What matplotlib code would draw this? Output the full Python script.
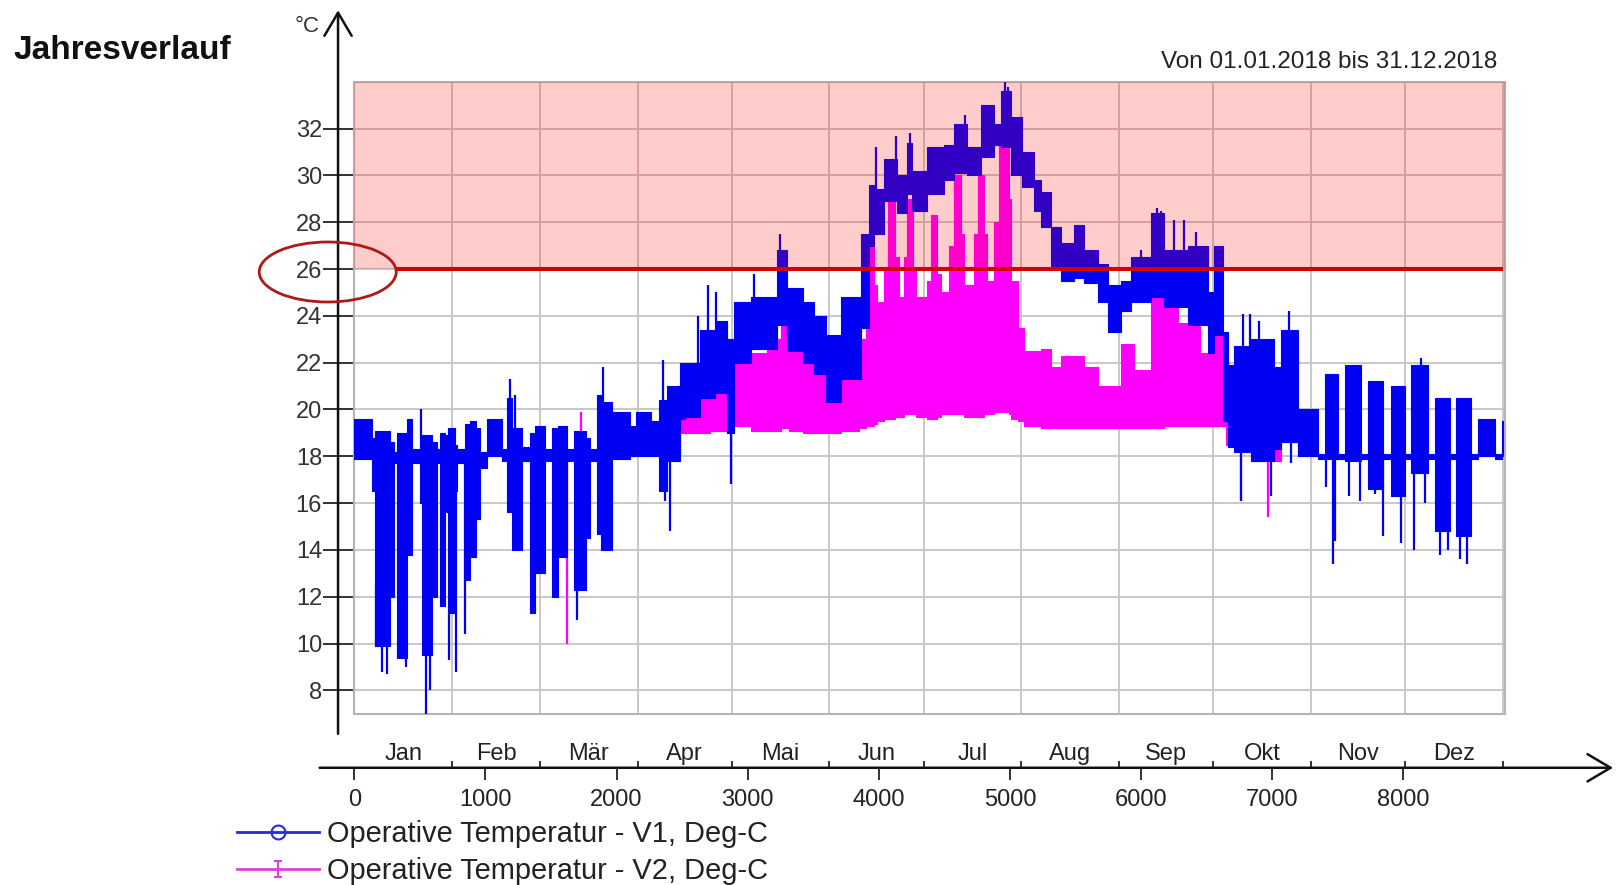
import numpy as np
import matplotlib
matplotlib.use("Agg")
import matplotlib.pyplot as plt
from matplotlib.patches import Ellipse, Rectangle
from matplotlib.path import Path
from matplotlib.lines import Line2D

plt.rcParams["font.family"] = ["Liberation Sans", "DejaVu Sans"]

YEAR_END = 8760
MONTH_DAYS = [31, 28, 31, 30, 31, 30, 31, 31, 30, 31, 30, 31]
MONTH_NAMES = ["Jan", "Feb", "Mär", "Apr", "Mai", "Jun", "Jul", "Aug", "Sep", "Okt", "Nov", "Dez"]
LIMIT_TEMP = 26
LIMIT_FROM_HOUR = 326

# V1 operative temperature, condensed to blocks: start hour, lowest and highest value in block
v1_hours = [0, 133, 158, 270, 300, 324, 400, 440, 500, 513, 590, 630, 654, 690, 712,           # Jan
            770, 782, 846, 885, 925, 960, 1010, 1125, 1163, 1200, 1278, 1342, 1380,            # Feb
            1456, 1507, 1550, 1622, 1673, 1770, 1800, 1850, 1880, 1965, 2105, 2150,            # Mär
            2260, 2321, 2385, 2487, 2525, 2640, 2754, 2843,                                    # Apr
            2894, 3022, 3226, 3302, 3420, 3506, 3600,                                          # Mai
            3709, 3862, 3925, 3964, 4040, 4142, 4218, 4256,                                    # Jun
            4371, 4498, 4574, 4676, 4778, 4880, 4931, 5007,                                    # Jul
            5096, 5185, 5236, 5312, 5389, 5490, 5567, 5669, 5745,                              # Aug
            5847, 5923, 6076, 6178, 6356, 6509,                                                # Sep
            6560, 6623, 6660, 6713, 6840, 7018, 7069, 7196,                                    # Okt
            7349, 7400, 7502, 7553, 7680, 7731, 7845, 7909, 8011,                              # Nov
            8062, 8189, 8240, 8354, 8405, 8520, 8570, 8698, 8750]                              # Dez
v1_low = [17.9, 16.5, 9.9, 12.0, 17.7, 9.4, 13.8, 17.7, 16.0, 9.5, 12.0, 17.7, 11.6, 15.6, 11.3,
          16.5, 17.7, 12.7, 13.7, 15.3, 17.5, 18.0, 17.8, 15.6, 14.0, 17.8, 11.3, 13.0,
          17.8, 12.0, 13.7, 17.8, 12.3, 14.5, 17.8, 14.7, 14.0, 17.9, 18.0, 18.0,
          18.0, 16.5, 17.8, 19.6, 19.7, 20.5, 20.7, 19.0,
          22.0, 22.6, 23.6, 22.5, 22.0, 21.5, 20.3,
          21.3, 23.5, 27.0, 27.5, 28.9, 28.4, 29.2, 28.5,
          29.2, 29.8, 30.1, 30.0, 30.8, 31.3, 31.2, 30.0,
          29.5, 28.5, 27.8, 26.0, 25.5, 25.6, 25.4, 24.6, 23.3,
          24.2, 24.6, 24.8, 24.4, 23.6, 22.4,
          23.2, 19.5, 18.4, 18.2, 17.8, 18.3, 18.6, 18.0,
          17.9, 17.9, 17.9, 17.8, 17.9, 16.6, 17.9, 16.3, 17.9,
          17.3, 17.9, 14.8, 17.9, 14.6, 17.9, 18.0, 17.9, 18.0]
v1_high = [19.6, 18.8, 19.1, 18.6, 18.2, 19.0, 19.6, 18.3, 18.6, 18.9, 18.6, 18.3, 19.0, 18.9, 19.2,
           18.5, 18.3, 19.4, 19.5, 19.2, 18.2, 19.6, 18.3, 20.5, 19.2, 18.4, 19.0, 19.3,
           18.3, 19.2, 19.3, 18.3, 19.1, 18.8, 18.3, 20.6, 20.3, 19.9, 19.3, 19.9,
           19.5, 20.4, 21.0, 22.0, 22.0, 23.4, 23.8, 23.0,
           24.6, 24.8, 26.8, 25.2, 24.6, 24.0, 23.2,
           24.8, 27.5, 29.6, 29.4, 30.7, 30.0, 31.4, 30.2,
           31.2, 31.3, 32.2, 31.2, 33.0, 32.2, 33.6, 32.5,
           31.0, 29.8, 29.3, 27.8, 27.1, 27.9, 26.8, 26.2, 25.3,
           25.5, 26.5, 28.4, 26.8, 27.0, 25.0,
           27.0, 23.3, 21.9, 22.7, 23.0, 21.8, 23.4, 20.0,
           18.1, 21.5, 18.1, 21.9, 18.1, 21.2, 18.1, 21.0, 18.1,
           21.9, 18.1, 20.5, 18.1, 20.5, 18.1, 19.6, 18.1, 19.5]
# single hours reaching beyond the block range
v1_peak_hours = [163, 212, 250, 395, 510, 548, 578, 722, 774, 845,
                 1190, 1225, 1700, 1895,
                 2354, 2372, 2410, 2620, 2700, 2760, 2869, 3047, 3250, 3290,
                 3976, 4130, 4240, 4660, 4960, 4985,
                 6000, 6120, 6150, 6255, 6330, 6420,
                 6760, 6780, 6830, 6900, 6990, 7127, 7145,
                 7412, 7463, 7476, 7590, 7667, 7782, 7845, 7980,
                 8082, 8138, 8164, 8278, 8342, 8430, 8487]
v1_peak_temps = [12.5, 8.8, 8.7, 9.0, 20.0, 7.0, 8.0, 9.3, 8.8, 10.4,
                 21.3, 20.6, 11.0, 21.8,
                 22.1, 16.1, 14.8, 24.0, 25.3, 25.0, 16.8, 25.8, 27.5, 26.6,
                 31.2, 31.7, 31.8, 32.6, 34.0, 33.8,
                 26.8, 28.6, 28.5, 28.1, 28.1, 27.6,
                 16.1, 24.1, 24.1, 23.8, 16.3, 24.2, 17.7,
                 16.7, 13.4, 14.4, 16.3, 16.1, 16.4, 14.6, 14.3,
                 14.0, 22.2, 16.0, 13.8, 14.0, 13.6, 13.4]

# V2 operative temperature, same block layout
v2_hours = [0, 2487, 2525, 2640, 2716, 2895, 3022, 3150, 3251, 3315, 3420, 3506, 3600,
            3709, 3850, 3900, 3925, 3965, 3989, 4040, 4070, 4120, 4154, 4193, 4215, 4260, 4282,
            4371, 4400, 4445, 4473, 4536, 4570, 4625, 4651, 4727, 4755, 4805, 4829,
            4880, 4920, 4990, 5007, 5060, 5109, 5236, 5312, 5389, 5567, 5669, 5847, 5950,
            6076, 6178, 6280, 6356, 6450, 6560, 6649, 6840, 7069, 7200]
v2_low = [18.0, 19.0, 19.0, 19.0, 19.1, 19.3, 19.1, 19.1, 19.2, 19.1, 19.0, 19.0, 19.0,
          19.1, 19.2, 19.3, 19.3, 19.4, 19.5, 19.6, 19.6, 19.7, 19.7, 19.8, 19.8, 19.8, 19.7,
          19.6, 19.6, 19.7, 19.8, 19.8, 19.8, 19.8, 19.7, 19.7, 19.7, 19.8, 19.8,
          19.9, 19.9, 19.8, 19.6, 19.5, 19.3, 19.2, 19.2, 19.2, 19.2, 19.2, 19.2, 19.2,
          19.2, 19.3, 19.3, 19.3, 19.3, 19.3, 18.5, 17.8, 18.6, 18.0]
v2_high = [18.05, 19.8, 19.8, 21.0, 21.3, 22.0, 22.4, 23.0, 23.7, 22.8, 22.3, 21.8, 20.3,
           21.3, 23.0, 25.5, 27.2, 25.3, 24.6, 26.0, 28.9, 26.5, 24.8, 26.5, 29.0, 26.0, 24.8,
           25.5, 28.3, 25.8, 25.0, 27.0, 30.0, 27.5, 25.3, 27.5, 30.0, 27.5, 25.5,
           28.0, 31.3, 29.0, 25.5, 23.5, 22.5, 22.6, 21.8, 22.3, 21.8, 21.0, 22.8, 21.7,
           24.8, 24.4, 23.7, 23.6, 22.4, 23.2, 20.2, 20.4, 19.8, 18.05]
v2_peak_hours = [1620, 1725, 6766, 6966]
v2_peak_temps = [10.0, 19.9, 16.1, 15.4]

BLUE = "#0000f4"
MAGENTA = "#ff00ff"


def draw_series(ax, hours, low, high, peak_hours, peak_temps, color, z):
    hours = np.asarray(hours)
    low = np.asarray(low)
    high = np.asarray(high)
    x = np.append(hours, YEAR_END)
    ax.fill_between(x, np.append(low, low[-1]), np.append(high, high[-1]),
                    step="post", color=color, lw=0.8, zorder=z)
    idx = np.searchsorted(hours, peak_hours, side="right") - 1
    peaks = np.asarray(peak_temps)
    start = np.where(peaks > high[idx], high[idx], low[idx])
    ax.vlines(peak_hours, start, peaks, color=color, lw=1.6, zorder=z)


month_edges = np.concatenate([[0], np.cumsum(MONTH_DAYS) * 24])
month_mids = (month_edges[:-1] + month_edges[1:]) / 2

fig = plt.figure(figsize=(16.16, 8.85), dpi=100)
ax = fig.add_axes([0.2188, 0.193, 0.7124, 0.714])
ax.set_xlim(-6, 8775)
ax.set_ylim(6.98, 33.98)

for s in ax.spines.values():
    s.set_visible(False)
ax.spines["left"].set_position(("outward", 11.2))
ax.spines["bottom"].set_position(("outward", 38.6))

ax.set_yticks(np.arange(8, 33, 2))
ax.tick_params(axis="y", direction="inout", length=20.9, width=1.3, color="#222222",
               labelsize=17, labelcolor="#333333", pad=1)
ax.set_xticks(np.arange(0, 8001, 1000))
ax.set_xticks(month_edges[1:], minor=True)
ax.tick_params(axis="x", which="major", direction="out", length=8.9, width=1.3,
               color="#222222", labelsize=17, labelcolor="#222222", pad=6.2)
ax.tick_params(axis="x", which="minor", direction="in", length=5.3, width=1.3, color="#222222")
ax.grid(True, axis="y", which="major", color="#c4c4c4", lw=1.3)
ax.grid(True, axis="x", which="minor", color="#c4c4c4", lw=1.3)
ax.set_axisbelow(True)

ax.add_patch(Rectangle((0, 0), 1, 1, transform=ax.transAxes, fill=False,
                       ec="#b4b4b4", lw=1.5, clip_on=False, zorder=1))

draw_series(ax, v2_hours, v2_low, v2_high, v2_peak_hours, v2_peak_temps, MAGENTA, 2)
draw_series(ax, v1_hours, v1_low, v1_high, v1_peak_hours, v1_peak_temps, BLUE, 3)

# overheating zone above the limit
ax.axhspan(LIMIT_TEMP, 34, color="#ff0000", alpha=0.2, lw=0, zorder=4)
ax.hlines(LIMIT_TEMP, LIMIT_FROM_HOUR, YEAR_END, color="#d40000", lw=2.9, zorder=5)

# axis lines with arrow heads
arrow = dict(arrowstyle="->,head_length=0.83,head_width=0.49", lw=1.8, color="#111111",
             shrinkA=0, shrinkB=0, mutation_scale=20)
ax.annotate("", xy=(-0.0135, 1.114), xytext=(-0.0135, -0.031), xycoords="axes fraction",
            textcoords="axes fraction", arrowprops=arrow, annotation_clip=False)
ax.annotate("", xy=(1.094, -0.0848), xytext=(-0.0295, -0.0848), xycoords="axes fraction",
            textcoords="axes fraction", arrowprops=arrow, annotation_clip=False)

month_tf = ax.get_xaxis_transform()
for name, mid in zip(MONTH_NAMES, month_mids):
    ax.text(mid, -0.0631, name, transform=month_tf, ha="center", va="center",
            fontsize=17, color="#222222", clip_on=False)

ax.text(0.9937, 1.0326, "Von 01.01.2018 bis 31.12.2018", transform=ax.transAxes,
        ha="right", va="center", fontsize=17.5, color="#222222")
fig.text(0.0083, 0.9435, "Jahresverlauf", fontsize=24, fontweight="bold", va="center", color="#111111")
fig.text(0.19, 0.970, "°C", fontsize=16, ha="center", va="center", color="#333333")

fig.add_artist(Ellipse((327.7 / 1616, 1 - 272 / 885), 137 / 1616, 60 / 885,
                       transform=fig.transFigure, fill=False, ec="#b01818", lw=2))

ibeam = Path([(-0.5, -1), (0.5, -1), (0, -1), (0, 1), (-0.5, 1), (0.5, 1)],
             [Path.MOVETO, Path.LINETO, Path.MOVETO, Path.LINETO, Path.MOVETO, Path.LINETO])
h1 = Line2D([], [], color="#2828e0", lw=2, marker="o", markersize=10, markerfacecolor="none",
            markeredgecolor="#2828e0", markeredgewidth=1.5)
h2 = Line2D([], [], color="#e040e0", lw=2, marker=ibeam, markersize=11, markerfacecolor="none",
            markeredgecolor="#e040e0", markeredgewidth=1.5)
leg = fig.legend([h1, h2], ["Operative Temperatur - V1, Deg-C", "Operative Temperatur - V2, Deg-C"],
                 loc="upper left", bbox_to_anchor=(0.1467, 0.0732), frameon=False, fontsize=20.9,
                 handlelength=2.82, handletextpad=0.27, labelspacing=0.3, borderpad=0,
                 borderaxespad=0, numpoints=1)
for t in leg.get_texts():
    t.set_color("#222222")

fig.savefig("out.png", dpi=100)
